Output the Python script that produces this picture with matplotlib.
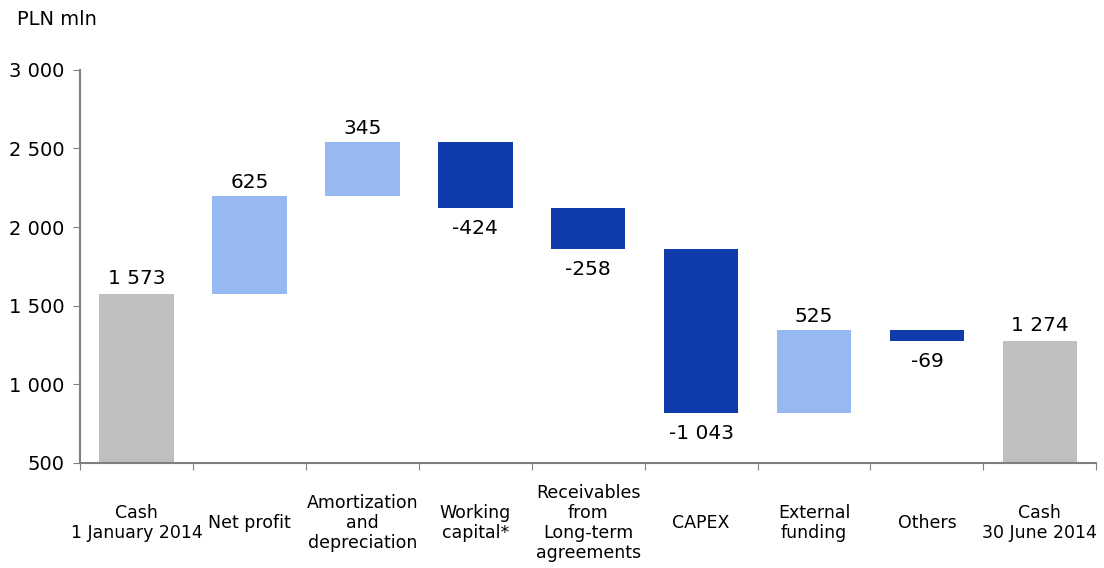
import matplotlib
matplotlib.use('Agg')
from matplotlib import pyplot as plt
from matplotlib import transforms
import numpy as np

categories = ['Cash\n1 January 2014', 'Net profit', 'Amortization\nand\ndepreciation',
              'Working\ncapital*', 'Receivables\nfrom\nLong-term\nagreements', 'CAPEX',
              'External\nfunding', 'Others', 'Cash\n30 June 2014']
changes = [1573, 625, 345, -424, -258, -1043, 525, -69, 1274]
kinds = ['total', 'delta', 'delta', 'delta', 'delta', 'delta', 'delta', 'delta', 'total']

grey = '#BFBFBF'
light = '#96B9F0'
dark = '#0F3CAA'
base_y = 500


def fmt(v):
    s = '{:,}'.format(abs(v)).replace(',', ' ')
    return '-' + s if v < 0 else s


fig = plt.figure(figsize=(11.04, 5.68), dpi=100)
ax = fig.add_axes([0.0725, 0.185, 0.9205, 0.692])

x = np.arange(len(categories))
running = 0
for i, (v, k) in enumerate(zip(changes, kinds)):
    if k == 'total':
        bottom, top = base_y, v
        running = v
        col = grey
    else:
        bottom, top = sorted([running, running + v])
        running += v
        col = light if v > 0 else dark
    ax.bar(x[i], top - bottom, bottom=bottom, width=0.66, color=col, zorder=2)
    if k == 'total' or v > 0:
        off = 40 if k == 'total' else 25
        ax.text(x[i], top + off, fmt(v), ha='center', va='bottom', fontsize=14.5)
    else:
        ax.text(x[i], bottom - 70, fmt(v), ha='center', va='top', fontsize=14.5)

ax.set_xlim(-0.5, len(categories) - 0.5)
ax.set_ylim(500, 3000)
ax.set_yticks(np.arange(500, 3001, 500))
ax.set_yticklabels([fmt(t) for t in np.arange(500, 3001, 500)], fontsize=14)

ax.set_xticks(np.arange(-0.5, len(categories), 1.0))
ax.set_xticklabels([])
ax.tick_params(axis='x', length=5, color='#808080', direction='out')
ax.tick_params(axis='y', length=5, color='#808080', pad=6)

# category labels, vertically centred under the axis
trans = transforms.blended_transform_factory(ax.transData, ax.transAxes)
for i, c in enumerate(categories):
    ax.text(x[i], -0.153, c, transform=trans, ha='center', va='center',
            fontsize=12.5, linespacing=1.15)

for s in ['top', 'right']:
    ax.spines[s].set_visible(False)
for s in ['left', 'bottom']:
    ax.spines[s].set_color('#808080')
    ax.spines[s].set_linewidth(1.5)

fig.text(0.015, 0.965, 'PLN mln', fontsize=14, va='center')

fig.savefig('out.png', dpi=100)
